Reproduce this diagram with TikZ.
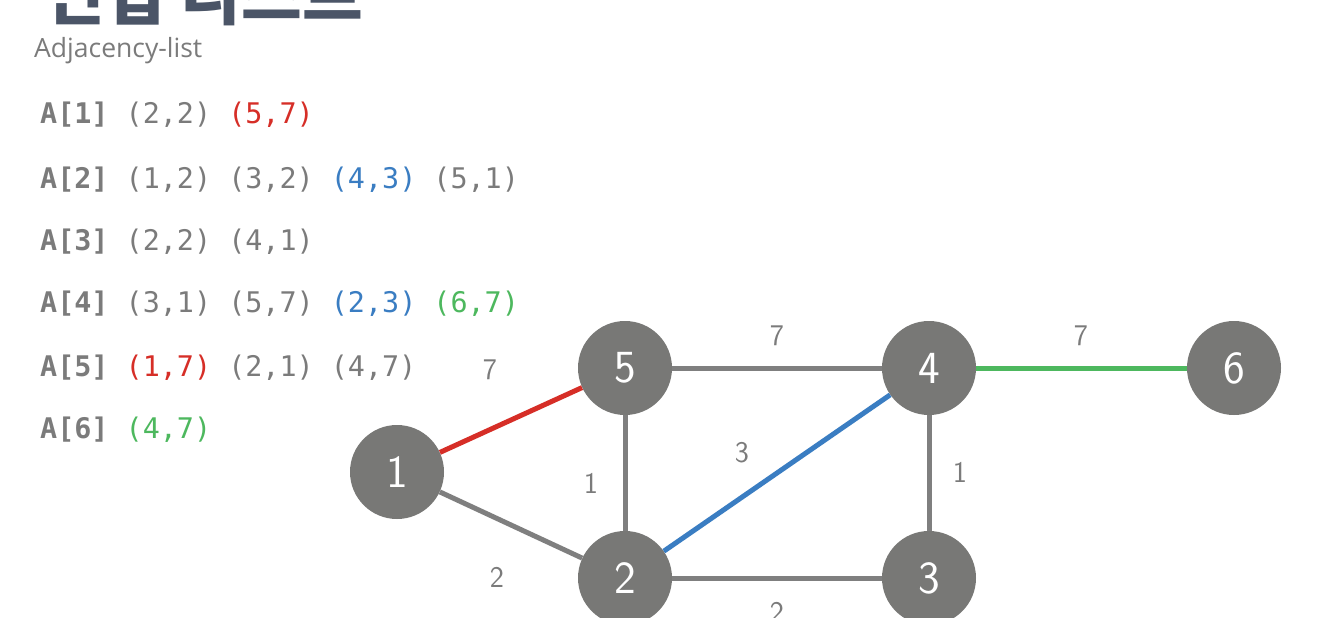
\documentclass[tikz,border=0pt]{standalone}
\usepackage{fontspec}
\newfontfamily\listfont{DejaVu Sans Mono}
\newfontfamily\subfont{Open Sans}
\newfontfamily\krfont{Noto Sans CJK KR}
\usepackage{tikz}
\usetikzlibrary{positioning}

\definecolor{nodegray}{HTML}{787876}
\definecolor{edgegray}{HTML}{7F7F7F}
\definecolor{txtgray}{HTML}{7B7B7B}
\definecolor{hlred}{HTML}{D62E27}
\definecolor{hlblue}{HTML}{3A7DC2}
\definecolor{hlgreen}{HTML}{4DB85E}
\definecolor{titleblue}{HTML}{4B5567}

\begin{document}
\begin{tikzpicture}[
  x=1pt, y=-1pt,
  vertex/.style={circle, fill=nodegray, text=white, inner sep=0pt, minimum size=94pt, font=\sffamily\fontsize{46}{46}\selectfont},
  edge/.style={line width=5pt, edgegray},
  weight/.style={inner sep=0pt, text=txtgray, font=\sffamily\fontsize{30}{30}\selectfont},
  row/.style={anchor=base west, inner sep=0pt, text=txtgray, font=\listfont\fontsize{28.4}{30}\selectfont}
]
\useasboundingbox[fill=white] (0,0) rectangle (1334,618);

% title and subtitle
\node[anchor=base west, inner sep=0pt, text=titleblue, font=\krfont\bfseries\fontsize{66}{66}\selectfont] (title) at (44,20) {인접 리스트};
\node[anchor=base west, inner sep=0pt, text=txtgray, font=\subfont\fontsize{26.5}{27}\selectfont] (subtitle) at (34,58) {Adjacency-list};

% adjacency list
\node[row] (a1) at (40,123) {\textbf{A[1]} (2,2) \textcolor{hlred}{(5,7)}};
\node[row] (a2) at (40,188) {\textbf{A[2]} (1,2) (3,2) \textcolor{hlblue}{(4,3)} (5,1)};
\node[row] (a3) at (40,250) {\textbf{A[3]} (2,2) (4,1)};
\node[row] (a4) at (40,312) {\textbf{A[4]} (3,1) (5,7) \textcolor{hlblue}{(2,3)} \textcolor{hlgreen}{(6,7)}};
\node[row] (a5) at (40,376) {\textbf{A[5]} \textcolor{hlred}{(1,7)} (2,1) (4,7)};
\node[row] (a6) at (40,438) {\textbf{A[6]} \textcolor{hlgreen}{(4,7)}};

% vertices
\node[vertex] (v1) at (397,472) {1};
\node[vertex] (v5) at (625,368) {5};
\node[vertex] (v4) at (929,368) {4};
\node[vertex] (v6) at (1234,368) {6};
\node[vertex] (v2) at (625,578) {2};
\node[vertex] (v3) at (929,578) {3};

% edges
\draw[edge, hlred] (v1) -- (v5);
\draw[edge] (v1) -- (v2);
\draw[edge] (v5) -- (v4);
\draw[edge] (v5) -- (v2);
\draw[edge, hlblue] (v2) -- (v4);
\draw[edge] (v4) -- (v3);
\draw[edge] (v2) -- (v3);
\draw[edge, hlgreen] (v4) -- (v6);

% weights
\node[weight] (w15) at (490,370) {7};
\node[weight] (w12) at (497,577) {2};
\node[weight] (w54) at (777,336) {7};
\node[weight] (w52) at (591,483) {1};
\node[weight] (w24) at (742,453) {3};
\node[weight] (w43) at (960,472) {1};
\node[weight] (w23) at (777,612) {2};
\node[weight] (w46) at (1081,336) {7};
\end{tikzpicture}
\end{document}
